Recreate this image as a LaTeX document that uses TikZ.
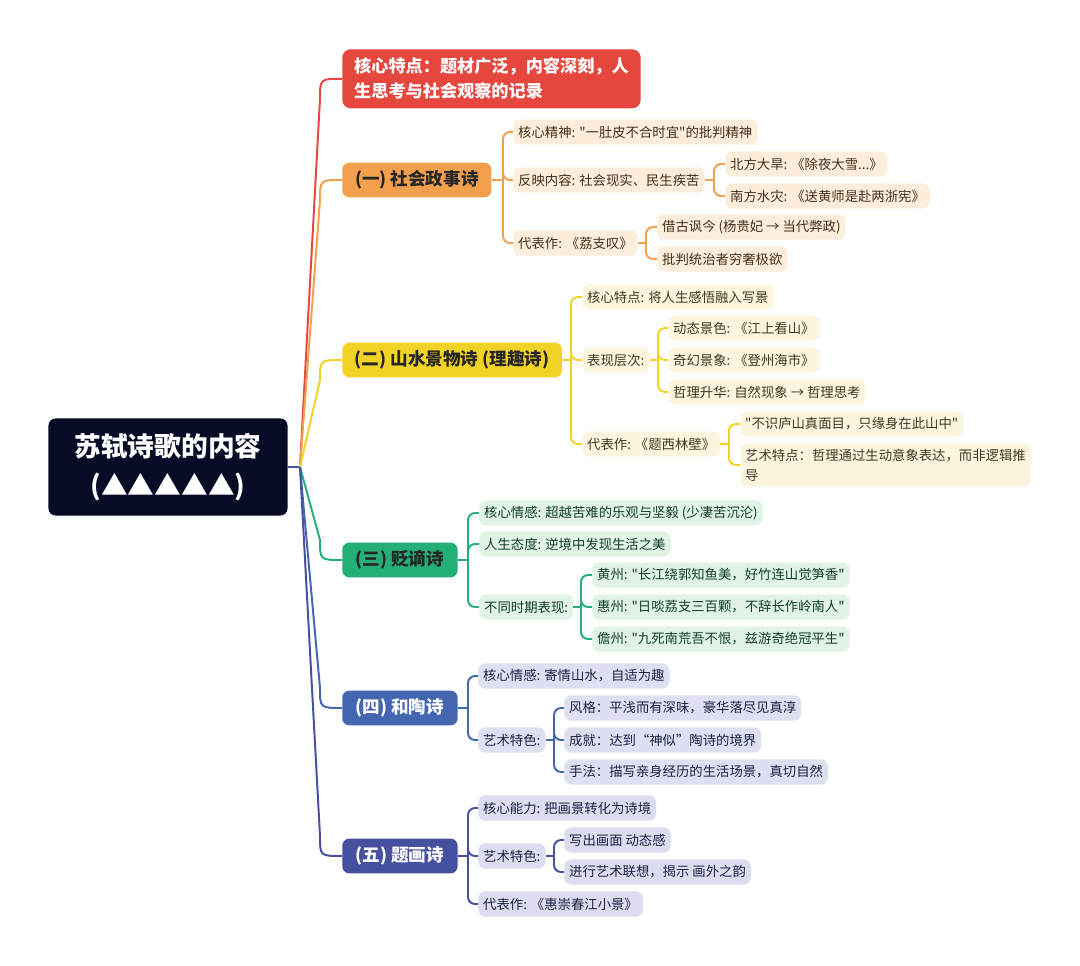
\documentclass[tikz,border=0pt]{standalone}
\usepackage{fontspec}
\setmainfont{Noto Sans CJK SC}[Ligatures=TeXOff]
\usetikzlibrary{calc}
\definecolor{rootbg}{HTML}{070B26}
\definecolor{cred}{HTML}{E5473F}
\definecolor{corange}{HTML}{F3A04C}
\definecolor{lorange}{HTML}{FDEEDC}
\definecolor{torange}{HTML}{40301E}
\definecolor{cyellow}{HTML}{F1D226}
\definecolor{lyellow}{HTML}{FCF5DD}
\definecolor{tyellow}{HTML}{3E3820}
\definecolor{cgreen}{HTML}{24AE78}
\definecolor{lgreen}{HTML}{E1F2E7}
\definecolor{tgreen}{HTML}{123E2A}
\definecolor{cblue}{HTML}{4465B0}
\definecolor{lblue}{HTML}{DEDFF0}
\definecolor{tblue}{HTML}{1C2248}
\definecolor{cindigo}{HTML}{4650A0}
\definecolor{lindigo}{HTML}{DCDCEE}

\begin{document}
\begin{tikzpicture}[x=0.025cm,y=-0.025cm]
\tikzstyle{every node}+=[inner sep=0pt]
\tikzstyle{leaf}=[rounded corners=5pt, inner xsep=3.5pt, minimum height=18pt, font=\fontsize{9.5pt}{14pt}\selectfont, anchor=west]
\tikzstyle{branch}=[rounded corners=5pt, inner xsep=9pt, minimum height=24.8pt, font=\fontsize{12.5pt}{15pt}\selectfont\bfseries, anchor=west]
\tikzstyle{link}=[line width=1.4pt]
\tikzstyle{fork}=[line width=1.4pt, rounded corners=5pt]
\useasboundingbox (0,0) rectangle (1080,966);
\node [fill=rootbg, text=white, rounded corners=5pt, minimum width=170pt, minimum height=69pt, align=center, font=\fontsize{19pt}{27.5pt}\selectfont\bfseries] (root) at (168,467) {苏轼诗歌的内容\\(▲▲▲▲▲)};
\node [fill=cred, text=white, rounded corners=6pt, anchor=north west, inner xsep=8.5pt, minimum height=42pt, align=left, font=\fontsize{12.2pt}{17.7pt}\selectfont\bfseries] (core) at (342,49) {核心特点：题材广泛，内容深刻，人\\生思考与社会观察的记录};
\node [branch, fill=corange, text=black!85, minimum width=106pt] (soc) at (342,180) {(一) 社会政事诗};
\node [branch, fill=cyellow, text=black!85, minimum width=154pt] (land) at (342,360) {(二) 山水景物诗 (理趣诗)};
\node [branch, fill=cgreen, text=black!85, minimum width=82pt] (exile) at (342,560) {(三) 贬谪诗};
\node [branch, fill=cblue, text=white, minimum width=82pt] (tao) at (342,708) {(四) 和陶诗};
\node [branch, fill=cindigo, text=white, minimum width=82pt] (paint) at (342,856) {(五) 题画诗};
\node [leaf, fill=lorange, text=torange] (soc1) at (513,132) {核心精神: "一肚皮不合时宜"的批判精神};
\node [leaf, fill=lorange, text=torange] (soc2) at (513,180) {反映内容: 社会现实、民生疾苦};
\node [leaf, fill=lorange, text=torange] (soc21) at (725,164) {北方大旱: 《除夜大雪...》};
\node [leaf, fill=lorange, text=torange] (soc22) at (725,196) {南方水灾: 《送黄师是赴两浙宪》};
\node [leaf, fill=lorange, text=torange] (soc3) at (513,243) {代表作: 《荔支叹》};
\node [leaf, fill=lorange, text=torange] (soc31) at (657,227) {借古讽今 (杨贵妃 → 当代弊政)};
\node [leaf, fill=lorange, text=torange] (soc32) at (657,259) {批判统治者穷奢极欲};
\node [leaf, fill=lyellow, text=tyellow] (land1) at (582,297) {核心特点: 将人生感悟融入写景};
\node [leaf, fill=lyellow, text=tyellow] (land2) at (582,360) {表现层次:};
\node [leaf, fill=lyellow, text=tyellow] (land21) at (668,328) {动态景色: 《江上看山》};
\node [leaf, fill=lyellow, text=tyellow] (land22) at (668,360) {奇幻景象: 《登州海市》};
\node [leaf, fill=lyellow, text=tyellow] (land23) at (668,392) {哲理升华: 自然现象 → 哲理思考};
\node [leaf, fill=lyellow, text=tyellow] (land3) at (582,444) {代表作: 《题西林壁》};
\node [leaf, fill=lyellow, text=tyellow] (land31) at (740,424) {"不识庐山真面目，只缘身在此山中"};
\node [leaf, fill=lyellow, text=tyellow, align=left, inner ysep=4pt] (land32) at (740,465) {艺术特点：哲理通过生动意象表达，而非逻辑推\\导};
\node [leaf, fill=lgreen, text=tgreen] (exile1) at (479,513) {核心情感: 超越苦难的乐观与坚毅 (少凄苦沉沦)};
\node [leaf, fill=lgreen, text=tgreen] (exile2) at (479,544) {人生态度: 逆境中发现生活之美};
\node [leaf, fill=lgreen, text=tgreen] (exile3) at (479,607) {不同时期表现:};
\node [leaf, fill=lgreen, text=tgreen] (exile31) at (592,575) {黄州: "长江绕郭知鱼美，好竹连山觉笋香"};
\node [leaf, fill=lgreen, text=tgreen] (exile32) at (592,607) {惠州: "日啖荔支三百颗，不辞长作岭南人"};
\node [leaf, fill=lgreen, text=tgreen] (exile33) at (592,639) {儋州: "九死南荒吾不恨，兹游奇绝冠平生"};
\node [leaf, fill=lblue, text=tblue] (tao1) at (478,676) {核心情感: 寄情山水，自适为趣};
\node [leaf, fill=lblue, text=tblue] (tao2) at (478,740) {艺术特色:};
\node [leaf, fill=lblue, text=tblue] (tao21) at (564,708) {风格：平浅而有深味，豪华落尽见真淳};
\node [leaf, fill=lblue, text=tblue] (tao22) at (564,740) {成就：达到“神似”陶诗的境界};
\node [leaf, fill=lblue, text=tblue] (tao23) at (564,772) {手法：描写亲身经历的生活场景，真切自然};
\node [leaf, fill=lindigo, text=tblue] (paint1) at (478,808) {核心能力: 把画景转化为诗境};
\node [leaf, fill=lindigo, text=tblue] (paint2) at (478,856) {艺术特色:};
\node [leaf, fill=lindigo, text=tblue] (paint21) at (564,840) {写出画面 动态感};
\node [leaf, fill=lindigo, text=tblue] (paint22) at (564,872) {进行艺术联想，揭示 画外之韵};
\node [leaf, fill=lindigo, text=tblue] (paint3) at (478,904) {代表作: 《惠崇春江小景》};
\coordinate (hub) at (300,467);
\draw [link, cindigo] (root.east) -- (hub);
\draw [link, cred] (hub) -- ($(core.west)+(-22,20)$) .. controls ($(core.west)+(-22,0)$) .. (core.west);
\draw [link, corange] (hub) -- ($(soc.west)+(-22,20)$) .. controls ($(soc.west)+(-22,0)$) .. (soc.west);
\draw [link, cyellow] (hub) -- ($(land.west)+(-22,20)$) .. controls ($(land.west)+(-22,0)$) .. (land.west);
\draw [link, cgreen] (hub) -- ($(exile.west)+(-22,-20)$) .. controls ($(exile.west)+(-22,0)$) .. (exile.west);
\draw [link, cblue] (hub) -- ($(tao.west)+(-22,-20)$) .. controls ($(tao.west)+(-22,0)$) .. (tao.west);
\draw [link, cindigo] (hub) -- ($(paint.west)+(-22,-20)$) .. controls ($(paint.west)+(-22,0)$) .. (paint.west);
\coordinate (jsoc) at ($(soc.east -| soc1.west)+(-10,0)$);
\draw [link, corange] (soc.east) -- (jsoc);
\draw [fork, corange] (jsoc) |- (soc1.west);
\draw [fork, corange] (jsoc) |- (soc2.west);
\draw [fork, corange] (jsoc) |- (soc3.west);
\coordinate (jsoc2) at ($(soc2.east -| soc21.west)+(-11,0)$);
\draw [link, corange] (soc2.east) -- (jsoc2);
\draw [fork, corange] (jsoc2) |- (soc21.west);
\draw [fork, corange] (jsoc2) |- (soc22.west);
\coordinate (jsoc3) at ($(soc3.east -| soc31.west)+(-11,0)$);
\draw [link, corange] (soc3.east) -- (jsoc3);
\draw [fork, corange] (jsoc3) |- (soc31.west);
\draw [fork, corange] (jsoc3) |- (soc32.west);
\coordinate (jland) at ($(land.east -| land1.west)+(-11,0)$);
\draw [link, cyellow] (land.east) -- (jland);
\draw [fork, cyellow] (jland) |- (land1.west);
\draw [fork, cyellow] (jland) |- (land2.west);
\draw [fork, cyellow] (jland) |- (land3.west);
\coordinate (jland2) at ($(land2.east -| land21.west)+(-10,0)$);
\draw [link, cyellow] (land2.east) -- (jland2);
\draw [fork, cyellow] (jland2) |- (land21.west);
\draw [fork, cyellow] (jland2) |- (land22.west);
\draw [fork, cyellow] (jland2) |- (land23.west);
\coordinate (jland3) at ($(land3.east -| land31.west)+(-11,0)$);
\draw [link, cyellow] (land3.east) -- (jland3);
\draw [fork, cyellow] (jland3) |- (land31.west);
\draw [fork, cyellow] (jland3) |- (land32.west);
\coordinate (jexile) at ($(exile.east -| exile1.west)+(-11,0)$);
\draw [link, cgreen] (exile.east) -- (jexile);
\draw [fork, cgreen] (jexile) |- (exile1.west);
\draw [fork, cgreen] (jexile) |- (exile2.west);
\draw [fork, cgreen] (jexile) |- (exile3.west);
\coordinate (jexile3) at ($(exile3.east -| exile31.west)+(-11,0)$);
\draw [link, cgreen] (exile3.east) -- (jexile3);
\draw [fork, cgreen] (jexile3) |- (exile31.west);
\draw [fork, cgreen] (jexile3) |- (exile32.west);
\draw [fork, cgreen] (jexile3) |- (exile33.west);
\coordinate (jtao) at ($(tao.east -| tao1.west)+(-10,0)$);
\draw [link, cblue] (tao.east) -- (jtao);
\draw [fork, cblue] (jtao) |- (tao1.west);
\draw [fork, cblue] (jtao) |- (tao2.west);
\coordinate (jtao2) at ($(tao2.east -| tao21.west)+(-10,0)$);
\draw [link, cblue] (tao2.east) -- (jtao2);
\draw [fork, cblue] (jtao2) |- (tao21.west);
\draw [fork, cblue] (jtao2) |- (tao22.west);
\draw [fork, cblue] (jtao2) |- (tao23.west);
\coordinate (jpaint) at ($(paint.east -| paint1.west)+(-10,0)$);
\draw [link, cindigo] (paint.east) -- (jpaint);
\draw [fork, cindigo] (jpaint) |- (paint1.west);
\draw [fork, cindigo] (jpaint) |- (paint2.west);
\draw [fork, cindigo] (jpaint) |- (paint3.west);
\coordinate (jpaint2) at ($(paint2.east -| paint21.west)+(-10,0)$);
\draw [link, cindigo] (paint2.east) -- (jpaint2);
\draw [fork, cindigo] (jpaint2) |- (paint21.west);
\draw [fork, cindigo] (jpaint2) |- (paint22.west);
\end{tikzpicture}
\end{document}
